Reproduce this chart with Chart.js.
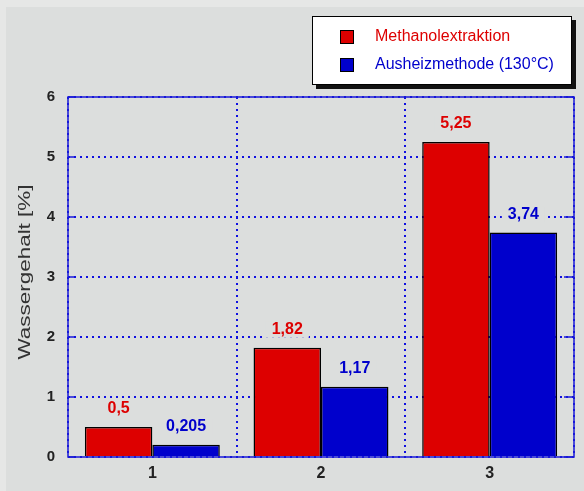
<!DOCTYPE html>
<html><head><meta charset="utf-8">
<script src="https://cdn.jsdelivr.net/npm/chart.js@4/dist/chart.umd.min.js"></script>
<style>html,body{margin:0;padding:0;background:#dcdedd;}#wrap{width:584px;height:491px;position:relative;}</style>
</head><body><div id="wrap"><canvas id="c" width="584" height="491"></canvas></div>
<script>
const categories = ['1', '2', '3'];
const seriesNames = ['Methanolextraktion', 'Ausheizmethode (130°C)'];
const methanol = [0.5, 1.82, 5.25];
const ausheiz = [0.205, 1.17, 3.74];
const valueLabelsMethanol = ['0,5', '1,82', '5,25'];
const valueLabelsAusheiz = ['0,205', '1,17', '3,74'];
const yTicks = [0, 1, 2, 3, 4, 5, 6];
const yTitle = 'Wassergehalt [%]';

const RED = '#dd0000', BLUE = '#0000cc', GRID = '#1a1ad6';
const FONT = '"Liberation Sans", Arial, sans-serif';

const deco = {
  id: 'deco',
  beforeDraw(chart) {
    const ctx = chart.ctx;
    ctx.save();
    ctx.fillStyle = '#dcdedd';
    ctx.fillRect(0, 0, chart.width, chart.height);
    ctx.fillStyle = '#e6e7e6';
    ctx.fillRect(0, 0, chart.width, 7);
    ctx.fillRect(0, 0, 6, chart.height);
    ctx.restore();
  },
  afterDatasetsDraw(chart) {
    const ctx = chart.ctx;
    const {left, right, top, bottom} = chart.chartArea;
    const ys = chart.scales.y;
    ctx.save();
    ctx.strokeStyle = GRID; ctx.lineWidth = 1.5;
    yTicks.forEach(v => {
      const y = Math.round(ys.getPixelForValue(v));
      ctx.beginPath(); ctx.moveTo(left, y); ctx.lineTo(left + 6, y);
      ctx.moveTo(right - 10, y); ctx.lineTo(right, y); ctx.stroke();
    });
    ctx.strokeRect(left, top, right - left, bottom - top);
    ctx.font = 'bold 16px ' + FONT;
    ctx.textAlign = 'center'; ctx.textBaseline = 'middle';
    const sets = [[0, valueLabelsMethanol, RED], [1, valueLabelsAusheiz, BLUE]];
    sets.forEach(([di, labels, col]) => {
      const meta = chart.getDatasetMeta(di);
      meta.data.forEach((bar, i) => {
        const t = labels[i];
        const w = ctx.measureText(t).width;
        const cy = bar.y - 18;
        ctx.fillStyle = '#dcdedd';
        ctx.fillRect(bar.x - w / 2 - 6, cy - 8, w + 12, 16);
        ctx.fillStyle = col;
        ctx.fillText(t, bar.x, cy);
      });
    });
    ctx.restore();
  },
  afterDraw(chart) {
    const ctx = chart.ctx;
    ctx.save();
    ctx.font = '17px ' + FONT;
    ctx.fillStyle = '#333333';
    const tw = ctx.measureText(yTitle).width;
    ctx.translate(25, 272);
    ctx.rotate(-Math.PI / 2);
    ctx.scale(175 / tw, 1);
    ctx.textAlign = 'center'; ctx.textBaseline = 'middle';
    ctx.fillText(yTitle, 0, 0);
    ctx.restore();
    ctx.save();
    ctx.fillStyle = '#111';
    ctx.fillRect(316, 20, 260, 69);
    ctx.fillStyle = '#ffffff';
    ctx.fillRect(312, 16, 260, 69);
    ctx.strokeStyle = '#000'; ctx.lineWidth = 1;
    ctx.strokeRect(312.5, 16.5, 259, 68);
    const items = [[seriesNames[0], RED, 30], [seriesNames[1], BLUE, 58]];
    ctx.font = '16px ' + FONT;
    ctx.textBaseline = 'middle'; ctx.textAlign = 'left';
    items.forEach(([t, col, y]) => {
      ctx.fillStyle = col;
      ctx.fillRect(340, y, 14, 14);
      ctx.strokeStyle = '#000';
      ctx.strokeRect(340.5, y + 0.5, 13, 13);
      ctx.fillText(t, 375, y + 7);
    });
    ctx.restore();
  }
};

new Chart(document.getElementById('c'), {
  type: 'bar',
  data: {
    labels: categories,
    datasets: [
      { label: seriesNames[0], data: methanol, backgroundColor: RED, borderColor: '#000', borderWidth: 1.5 },
      { label: seriesNames[1], data: ausheiz, backgroundColor: BLUE, borderColor: '#000', borderWidth: 1.5 }
    ]
  },
  plugins: [deco],
  options: {
    responsive: false,
    animation: false,
    devicePixelRatio: 1,
    layout: { padding: { top: 97, right: 10, left: 0, bottom: 0 } },
    datasets: { bar: { categoryPercentage: 0.8, barPercentage: 1.0 } },
    plugins: { legend: { display: false }, tooltip: { enabled: false } },
    scales: {
      x: {
        offset: true,
        grid: { offset: true, color: '#1010e0', lineWidth: 2, drawTicks: false },
        border: { display: false, dash: [2, 4] },
        ticks: { color: '#222', font: { family: FONT, size: 16, weight: 'bold' }, padding: 7 },
        afterFit(s) { s.height = 34; }
      },
      y: {
        min: 0, max: 6,
        afterBuildTicks(s) { s.ticks = yTicks.map(v => ({ value: v })); },
        grid: { color: '#1010e0', lineWidth: 2, drawTicks: false },
        border: { display: false, dash: [2, 4] },
        ticks: { color: '#222', font: { family: FONT, size: 15, weight: 'bold' }, padding: 13 },
        afterFit(s) { s.width = 68; }
      }
    }
  }
});
</script></body></html>
